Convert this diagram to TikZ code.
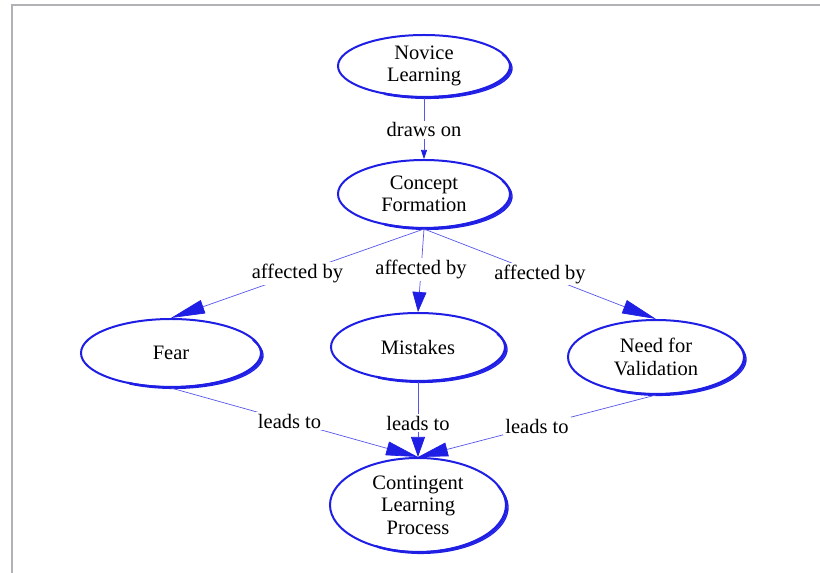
\documentclass[tikz,border=0pt]{standalone}
\usepackage{fontspec}
\setmainfont{Liberation Serif}
\newfontfamily\mapfont{Liberation Serif}
\usetikzlibrary{shapes.geometric,arrows.meta}
\definecolor{ink}{RGB}{30,30,228}
\definecolor{frame}{RGB}{178,178,182}
\tikzset{
  concept/.style={ellipse, draw=ink, line width=2pt, fill=white, inner sep=0pt,
    align=center, font=\mapfont\fontsize{20.5}{22.5}\selectfont},
  link/.style={draw=ink!75, line width=0.7pt},
  lbl/.style={fill=white, inner sep=2pt, font=\mapfont\fontsize{20.5}{22.5}\selectfont},
  bigtip/.style={-{Triangle[length=#1, width=14pt, color=ink]}},
  rim/.style={draw=ink, line width=1.3pt},
}
% heavier pen strokes along the lower right of a concept oval
\newcommand\inkrim[3]{%
  \foreach \d in {1,2,3}{%
    \draw[rim] ([shift={(\d*1.0pt,-\d*0.8pt)}]#1.center) ++(25:#2 and #3)
      arc[start angle=25, end angle=-120, x radius=#2, y radius=#3];}}
\begin{document}
\begin{tikzpicture}[x=1pt,y=1pt]
\useasboundingbox (0,0) rectangle (820,573);
% page frame
\draw[frame, line width=2pt] (820,568) -- (12,568) -- (12,0);

% concept ovals
\node[concept, minimum width=172pt, minimum height=62pt] (novice) at (424,507) {Novice\\Learning};
\node[concept, minimum width=172pt, minimum height=68pt] (formation) at (424,379) {Concept\\Formation};
\node[concept, minimum width=180pt, minimum height=68pt] (fear) at (171,220) {Fear};
\node[concept, minimum width=174pt, minimum height=68pt] (mistakes) at (418,226) {Mistakes};
\node[concept, minimum width=176pt, minimum height=74pt] (validation) at (656,216) {Need for\\Validation};
\node[concept, minimum width=176pt, minimum height=94pt] (contingent) at (418,68) {Contingent\\Learning\\Process};

\inkrim{novice}{85pt}{30pt}
\inkrim{formation}{85pt}{33pt}
\inkrim{fear}{89pt}{33pt}
\inkrim{mistakes}{86pt}{33pt}
\inkrim{validation}{87pt}{36pt}
\inkrim{contingent}{87pt}{46pt}

% links
\draw[link, -{Triangle[length=9pt, width=6pt, color=ink]}] (novice.south) -- node[lbl, pos=0.52] (l0) {draws on} (formation.north);
\draw[link, bigtip=34pt] (formation.south) -- node[lbl, pos=0.5] (l1) {affected by} (fear.north);
\draw[link, bigtip=20pt] (formation.south) -- node[lbl, pos=0.49] (l2) {affected by} (mistakes.north);
\draw[link, bigtip=34pt] (formation.south) -- node[lbl, pos=0.5] (l3) {affected by} (validation.north);
\draw[link, bigtip=32pt] (fear.south) -- node[lbl, pos=0.48] (l4) {leads to} (contingent.north);
\draw[link, bigtip=20pt] (mistakes.south) -- node[lbl, pos=0.55] (l5) {leads to} (contingent.north);
\draw[link, bigtip=30pt] (validation.south) -- node[lbl, pos=0.5] (l6) {leads to} (contingent.north);
\end{tikzpicture}
\end{document}
